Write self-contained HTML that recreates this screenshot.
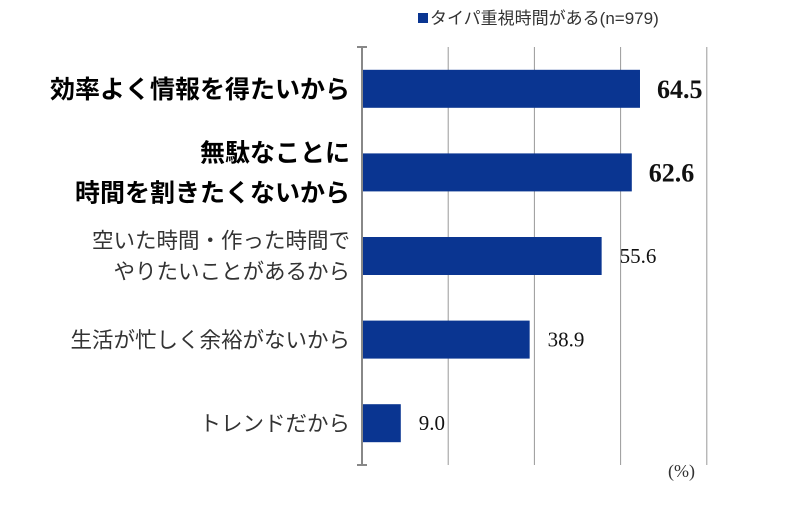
<!DOCTYPE html>
<html><head><meta charset="utf-8"><style>
body{margin:0;background:#fff;width:800px;height:500px;overflow:hidden}
svg text{font-family:"Liberation Serif","Noto Serif CJK SC",serif}
.cat{font-family:"Liberation Sans","Noto Sans CJK JP",sans-serif}
</style></head><body>
<svg id="chart" width="800" height="500" xmlns="http://www.w3.org/2000/svg">
<g id="grid"></g>
<g id="bars"></g>
<g id="labels"></g>
<g id="vals"></g>
<g>
<rect x="418" y="13" width="10" height="10" fill="#0a3591"/>
<text x="430" y="24" font-size="17" fill="#333" class="cat">タイパ重視時間がある(n=979)</text>
</g>
<text x="668" y="477" font-size="18" fill="#333">(%)</text>
</svg>
<script>
const categories=[["効率よく情報を得たいから"],["無駄なことに","時間を割きたくないから"],["空いた時間・作った時間で","やりたいことがあるから"],["生活が忙しく余裕がないから"],["トレンドだから"]];
const values=[64.5,62.6,55.6,38.9,9.0];
const bold=[true,true,false,false,false];
const ticks=[0,20,40,60,80];
const NS="http://www.w3.org/2000/svg";
const x0=362,pxPer=4.31,yTop=47,yBot=465,band=(yBot-yTop)/categories.length,bh=38;
const xs=v=>x0+v*pxPer;
function mk(t,a,p){const e=document.createElementNS(NS,t);for(const k in a)e.setAttribute(k,a[k]);p.appendChild(e);return e;}
const g=document.getElementById('grid');
ticks.forEach((t,i)=>{const l=mk('line',{x1:xs(t),x2:xs(t),y1:yTop,y2:yBot,stroke:i?'#999':'#888','stroke-width':i?1:2},g);

});
[yTop,yBot].forEach(y=>{const l=mk('line',{x1:x0-5,x2:x0+5,y1:y,y2:y,stroke:'#888','stroke-width':2},g);

});
const bg=document.getElementById('bars'),lg=document.getElementById('labels'),vg=document.getElementById('vals');
values.forEach((v,i)=>{const cy=yTop+band*(i+0.5);
const r=mk('rect',{x:x0+1,y:cy-bh/2,width:xs(v)-x0-1,height:bh,fill:'#0a3591'},bg);


const lines=categories[i],fs=bold[i]?25:21.5,lh=bold[i]?40:31;
lines.forEach((s,j)=>{const t=mk('text',{x:350,y:cy+(j-(lines.length-1)/2)*lh+fs*0.36,'text-anchor':'end','font-size':fs,'font-weight':bold[i]?'bold':'normal',fill:bold[i]?'#000':'#333',class:'cat'},lg);t.textContent=s;

});
const t=mk('text',{x:xs(v)+(bold[i]?17:18),y:cy+(bold[i]?9:7),'font-size':bold[i]?26:21,'font-weight':bold[i]?'bold':'normal',fill:'#111'},vg);
t.textContent=v.toFixed(1);

});
</script>
</body></html>
